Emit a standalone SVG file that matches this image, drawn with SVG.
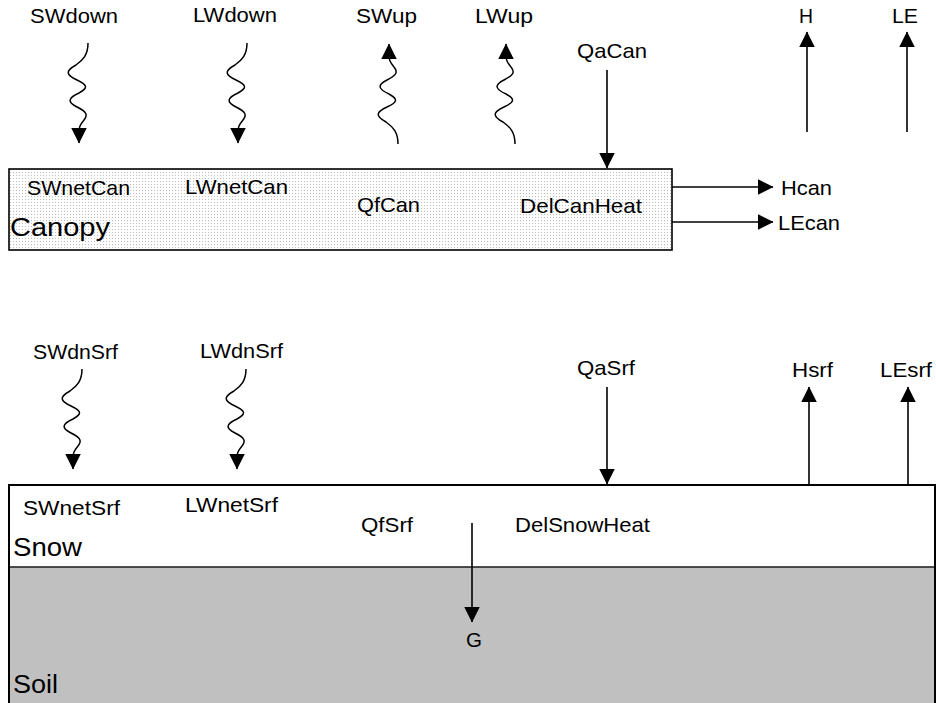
<svg xmlns="http://www.w3.org/2000/svg" width="936" height="703" viewBox="0 0 936 703">
  <style>
    text { font-family: "Liberation Sans", Arial, Helvetica, sans-serif; fill: #000; }
    .lbl { font-size: 21px; }
    .big { font-size: 26px; }
    .flow { fill: none; stroke: #000; stroke-width: 1.6; }
    .wave { fill: none; stroke: #000; stroke-width: 1.5; }
  </style>
  <defs>
    <!-- fine dot screen used for the canopy layer -->
    <pattern id="dots" width="3" height="3" patternUnits="userSpaceOnUse">
      <rect width="3" height="3" fill="#ffffff"/>
      <rect x="1" y="1" width="1" height="1" fill="#bdbdbd"/>
    </pattern>
    <marker id="head" markerUnits="userSpaceOnUse" markerWidth="16" markerHeight="16"
            viewBox="0 0 15 15" refX="14.5" refY="7.5" orient="auto">
      <path d="M0,0 L15,7.5 L0,15 Z" fill="#000"/>
    </marker>
    <!-- wavy radiation arrow, drawn pointing downwards -->
    <path id="waveDown" class="wave" marker-end="url(#head)"
          d="M88,43 C88,55 83,60 76,65 C65,71 66,75 77,80 C88,85 88,88 79,93 C68,98 67,102 77,107 C87,112 88,115 84,120 C80,125 79,127 79,132 L79,143"/>
  </defs>

  <rect width="936" height="703" fill="#ffffff"/>

  <!-- Canopy layer -->
  <g id="node-canopy">
    <rect x="9" y="169" width="663" height="81" fill="url(#dots)" stroke="#000" stroke-width="1.6"/>
    <text class="lbl" x="27" y="195" textLength="103" lengthAdjust="spacingAndGlyphs">SWnetCan</text>
    <text class="lbl" x="185" y="194" textLength="103" lengthAdjust="spacingAndGlyphs">LWnetCan</text>
    <text class="lbl" x="357" y="212" textLength="63" lengthAdjust="spacingAndGlyphs">QfCan</text>
    <text class="lbl" x="520" y="213" textLength="122" lengthAdjust="spacingAndGlyphs">DelCanHeat</text>
    <text class="big" x="10" y="236" textLength="100" lengthAdjust="spacingAndGlyphs">Canopy</text>
  </g>

  <!-- Snow and soil layers -->
  <g id="node-snow">
    <rect x="9" y="485" width="926" height="240" fill="#ffffff"/>
    <text class="lbl" x="23" y="515" textLength="97" lengthAdjust="spacingAndGlyphs">SWnetSrf</text>
    <text class="lbl" x="185" y="512" textLength="93" lengthAdjust="spacingAndGlyphs">LWnetSrf</text>
    <text class="lbl" x="361" y="532" textLength="52" lengthAdjust="spacingAndGlyphs">QfSrf</text>
    <text class="lbl" x="515" y="532" textLength="135" lengthAdjust="spacingAndGlyphs">DelSnowHeat</text>
    <text class="big" x="13" y="556" textLength="69" lengthAdjust="spacingAndGlyphs">Snow</text>
  </g>
  <g id="node-soil">
    <rect x="9" y="567" width="926" height="150" fill="#c0c0c0"/>
    <line x1="9" y1="567" x2="935" y2="567" stroke="#1a1a1a" stroke-width="1.3"/>
    <text class="lbl" x="466" y="647" textLength="16" lengthAdjust="spacingAndGlyphs">G</text>
    <text class="big" x="13" y="693" textLength="45" lengthAdjust="spacingAndGlyphs">Soil</text>
  </g>
  <path d="M9,710 V485 H935 V710" fill="none" stroke="#000" stroke-width="2"/>

  <!-- Flux labels -->
  <g id="node-fluxes-top">
    <text class="lbl" x="30" y="23" textLength="88" lengthAdjust="spacingAndGlyphs">SWdown</text>
    <text class="lbl" x="193" y="22" textLength="84" lengthAdjust="spacingAndGlyphs">LWdown</text>
    <text class="lbl" x="356" y="23" textLength="61" lengthAdjust="spacingAndGlyphs">SWup</text>
    <text class="lbl" x="475" y="23" textLength="58" lengthAdjust="spacingAndGlyphs">LWup</text>
    <text class="lbl" x="577" y="58" textLength="70" lengthAdjust="spacingAndGlyphs">QaCan</text>
    <text class="lbl" x="799" y="23" textLength="14" lengthAdjust="spacingAndGlyphs">H</text>
    <text class="lbl" x="892" y="23" textLength="26" lengthAdjust="spacingAndGlyphs">LE</text>
    <text class="lbl" x="781" y="195" textLength="51" lengthAdjust="spacingAndGlyphs">Hcan</text>
    <text class="lbl" x="778" y="230" textLength="62" lengthAdjust="spacingAndGlyphs">LEcan</text>
  </g>
  <g id="node-fluxes-surface">
    <text class="lbl" x="33" y="359" textLength="85" lengthAdjust="spacingAndGlyphs">SWdnSrf</text>
    <text class="lbl" x="200" y="358" textLength="83" lengthAdjust="spacingAndGlyphs">LWdnSrf</text>
    <text class="lbl" x="577" y="375" textLength="58" lengthAdjust="spacingAndGlyphs">QaSrf</text>
    <text class="lbl" x="792" y="377" textLength="41" lengthAdjust="spacingAndGlyphs">Hsrf</text>
    <text class="lbl" x="880" y="377" textLength="52" lengthAdjust="spacingAndGlyphs">LEsrf</text>
  </g>

  <!-- Connectors -->
  <g id="connectors">
    <!-- radiation (wavy) -->
    <use href="#waveDown"/>
    <use href="#waveDown" transform="translate(159,0)"/>
    <use href="#waveDown" transform="matrix(1,0,0,-1,310,187)"/>
    <use href="#waveDown" transform="matrix(1,0,0,-1,427,187)"/>
    <use href="#waveDown" transform="translate(-6,326)"/>
    <use href="#waveDown" transform="translate(158,326)"/>
    <!-- turbulent / conductive fluxes -->
    <line class="flow" x1="607" y1="70" x2="607" y2="168" marker-end="url(#head)"/>
    <line class="flow" x1="807" y1="132" x2="807" y2="32" marker-end="url(#head)"/>
    <line class="flow" x1="907" y1="132" x2="907" y2="32" marker-end="url(#head)"/>
    <line class="flow" x1="672" y1="187" x2="773" y2="187" marker-end="url(#head)"/>
    <line class="flow" x1="672" y1="222" x2="773" y2="222" marker-end="url(#head)"/>
    <line class="flow" x1="607" y1="387" x2="607" y2="484" marker-end="url(#head)"/>
    <line class="flow" x1="809" y1="485" x2="809" y2="387" marker-end="url(#head)"/>
    <line class="flow" x1="908" y1="485" x2="908" y2="387" marker-end="url(#head)"/>
    <line class="flow" x1="472" y1="523" x2="472" y2="622" marker-end="url(#head)"/>
  </g>
</svg>
